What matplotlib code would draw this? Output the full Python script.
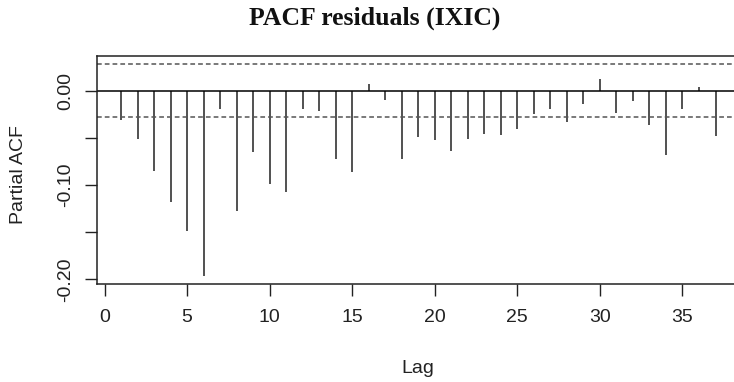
import matplotlib
matplotlib.use("Agg")
import matplotlib.pyplot as plt
import numpy as np

plt.rcParams['lines.scale_dashes'] = False

# pacf values, lags 1..37
lags = list(range(1, 38))
pacf_vals = [-0.031, -0.051, -0.085, -0.118, -0.149, -0.196, -0.020, -0.128,
             -0.065, -0.099, -0.108, -0.020, -0.022, -0.072, -0.086, 0.007,
             -0.010, -0.073, -0.049, -0.052, -0.064, -0.051, -0.046, -0.047,
             -0.041, -0.025, -0.020, -0.033, -0.014, 0.012, -0.024, -0.011,
             -0.037, -0.068, -0.019, 0.0035, -0.048]
ci = 0.028  # confidence bound

x_ticks = [0, 5, 10, 15, 20, 25, 30, 35]
y_ticks = [0.0, -0.05, -0.10, -0.15, -0.20]
y_labels = ["0.00", "", "-0.10", "", "-0.20"]

W, H = 734, 382
fig = plt.figure(figsize=(W / 100, H / 100), dpi=100)
# axes right edge runs off the picture like in the reference
left, right, top, bottom = 97.3, 739.3, 55.7, 284.0
ax = fig.add_axes([left / W, 1 - bottom / H, (right - left) / W, (bottom - top) / H])

ax.vlines(lags, 0, pacf_vals, color="#222222", lw=1.1)
ax.axhline(0, color="black", lw=1.1)
for c in (ci, -ci):
    ax.axhline(c, color="#555555", lw=1.1, dashes=(3.4, 2.2))

# R style: 4% padding
span_x = lags[-1] - lags[0]
ax.set_xlim(lags[0] - 0.04 * span_x, lags[-1] + 0.04 * span_x)
ymin = min(min(pacf_vals), -ci)
ymax = max(max(pacf_vals), ci)
ax.set_ylim(ymin - 0.04 * (ymax - ymin), ymax + 0.04 * (ymax - ymin))

sans = "Liberation Sans"
fs = 14
ax.set_xticks(x_ticks)
ax.set_xticklabels([str(t) for t in x_ticks], fontfamily=sans, fontsize=fs, color="#222222")
ax.set_yticks(y_ticks)
ax.set_yticklabels(y_labels, fontfamily=sans, fontsize=fs, rotation=90, va="center", color="#222222")
ax.tick_params(axis="x", length=8.5, width=1, pad=9.6, color="#222222")
ax.tick_params(axis="y", length=8.3, width=1, pad=8.3, color="#222222")
for s in ax.spines.values():
    s.set_linewidth(1.1)
    s.set_color("#222222")

fig.text(375 / W, 1 - 25 / H, "PACF residuals (IXIC)", ha="center", va="baseline",
         fontfamily="Liberation Serif", fontweight="bold", fontsize=18.5, color="#111111")
fig.text(418 / W, 1 - 373 / H, "Lag", ha="center", va="baseline",
         fontfamily=sans, fontsize=fs, color="#222222")
fig.text(18.3 / W, 1 - 175 / H, "Partial ACF", ha="center", va="center", rotation=90,
         fontfamily=sans, fontsize=fs, color="#222222")

fig.savefig("out.png", dpi=100)
